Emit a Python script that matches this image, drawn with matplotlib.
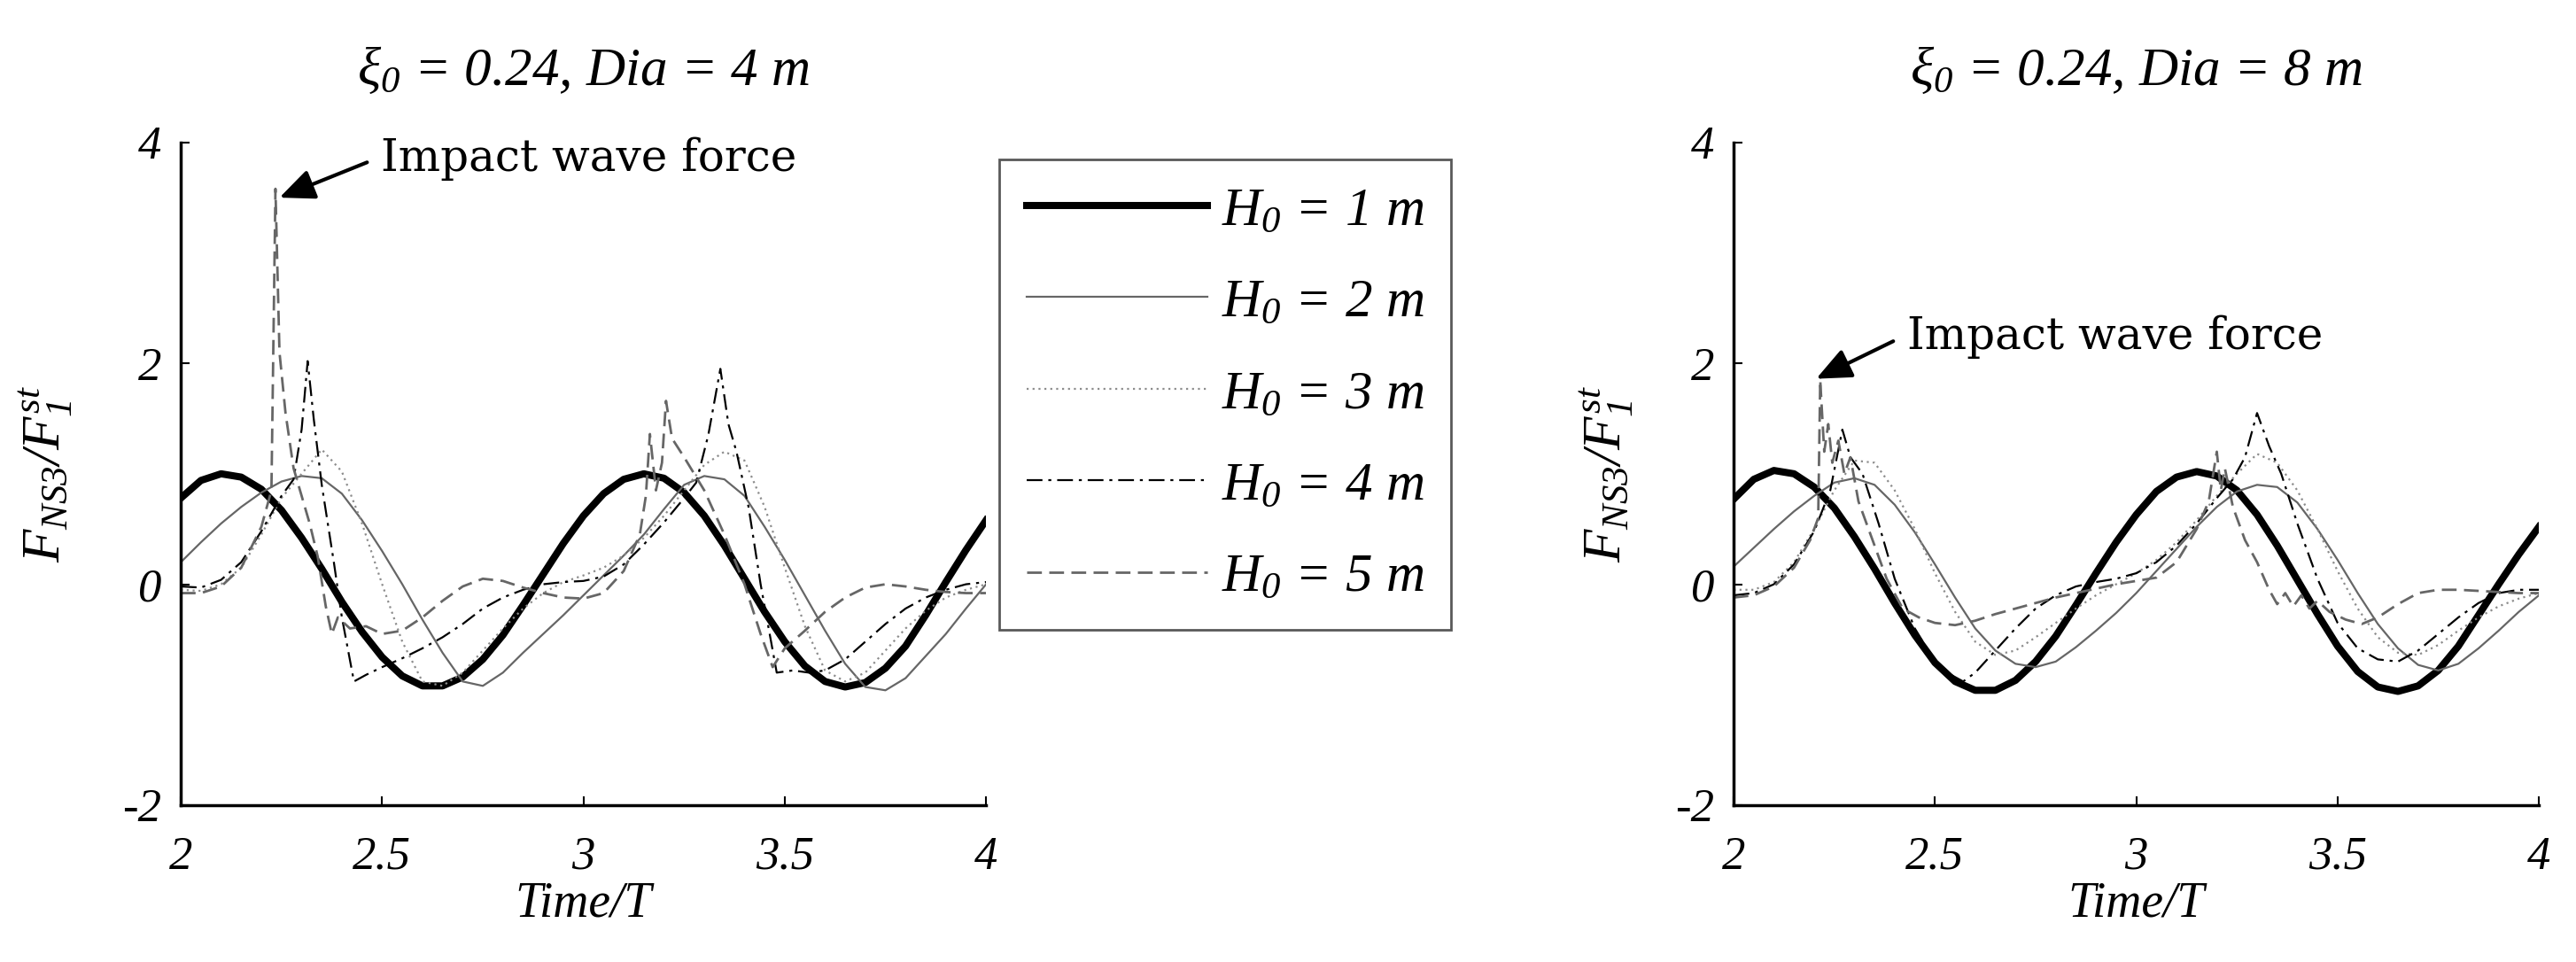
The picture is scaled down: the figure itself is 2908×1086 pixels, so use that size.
import matplotlib
matplotlib.use('Agg')
import matplotlib.pyplot as plt

plt.rcParams['font.family'] = 'Liberation Serif'
plt.rcParams['font.style'] = 'italic'
plt.rcParams['mathtext.fontset'] = 'custom'
plt.rcParams['mathtext.it'] = 'Liberation Serif:italic'
plt.rcParams['mathtext.rm'] = 'Liberation Serif:italic'
plt.rcParams['mathtext.default'] = 'it'

# ---------------- data ----------------
t_grid = [2.00, 2.05, 2.10, 2.15, 2.20, 2.25, 2.30, 2.35, 2.40, 2.45,
          2.50, 2.55, 2.60, 2.65, 2.70, 2.75, 2.80, 2.85, 2.90, 2.95,
          3.00, 3.05, 3.10, 3.15, 3.20, 3.25, 3.30, 3.35, 3.40, 3.45,
          3.50, 3.55, 3.60, 3.65, 3.70, 3.75, 3.80, 3.85, 3.90, 3.95, 4.00]

# Dia = 4 m
L_H1 = [0.78, 0.94, 1.00, 0.97, 0.86, 0.67, 0.42, 0.14, -0.16, -0.43,
        -0.66, -0.83, -0.92, -0.92, -0.84, -0.68, -0.46, -0.19, 0.09, 0.37,
        0.62, 0.82, 0.95, 1.00, 0.96, 0.83, 0.62, 0.35, 0.05, -0.25,
        -0.52, -0.74, -0.88, -0.93, -0.89, -0.76, -0.56, -0.28, 0.02, 0.31, 0.58]
L_H2 = [0.20, 0.38, 0.55, 0.70, 0.83, 0.93, 0.98, 0.96, 0.82, 0.58,
        0.30, 0.00, -0.32, -0.62, -0.88, -0.92, -0.80, -0.62, -0.45, -0.28,
        -0.10, 0.08, 0.26, 0.45, 0.68, 0.90, 0.98, 0.95, 0.80, 0.52,
        0.22, -0.10, -0.42, -0.72, -0.93, -0.96, -0.85, -0.65, -0.45, -0.22, 0.00]
L_H3 = [-0.05, -0.06, 0.00, 0.15, 0.45, 0.78, 1.00, 1.22, 1.02, 0.55,
        0.00, -0.52, -0.88, -0.92, -0.80, -0.60, -0.40, -0.22, -0.08, 0.02,
        0.08, 0.15, 0.26, 0.42, 0.62, 0.85, 1.08, 1.20, 1.12, 0.70,
        0.15, -0.38, -0.78, -0.88, -0.80, -0.60, -0.40, -0.24, -0.12, -0.05, 0.00]
L_H4_t = [2.00, 2.05, 2.10, 2.15, 2.20, 2.25, 2.28, 2.30, 2.315, 2.33,
          2.35, 2.38, 2.40, 2.43, 2.46, 2.50, 2.55, 2.60, 2.65, 2.70,
          2.75, 2.80, 2.85, 2.90, 2.95, 3.00, 3.05, 3.10, 3.15, 3.20,
          3.25, 3.28, 3.31, 3.34, 3.36, 3.38, 3.41, 3.44, 3.48, 3.52,
          3.56, 3.60, 3.65, 3.70, 3.75, 3.80, 3.85, 3.90, 3.95, 4.00]
L_H4 = [-0.02, -0.03, 0.04, 0.20, 0.48, 0.80, 0.95, 1.40, 2.02, 1.50,
        0.90, 0.20, -0.30, -0.88, -0.82, -0.75, -0.67, -0.58, -0.48, -0.36,
        -0.22, -0.12, -0.05, 0.00, 0.02, 0.03, 0.07, 0.18, 0.36, 0.56,
        0.78, 0.92, 1.35, 1.95, 1.45, 1.20, 0.70, 0.00, -0.80, -0.78,
        -0.80, -0.78, -0.68, -0.52, -0.36, -0.22, -0.12, -0.05, 0.00, 0.02]
L_H5_t = [2.00, 2.05, 2.10, 2.15, 2.20, 2.225, 2.235, 2.245, 2.26, 2.28,
          2.30, 2.32, 2.34, 2.36, 2.375, 2.39, 2.42, 2.46, 2.50, 2.55,
          2.60, 2.65, 2.70, 2.75, 2.80, 2.85, 2.90, 2.95, 3.00, 3.05,
          3.10, 3.14, 3.155, 3.165, 3.18, 3.195, 3.205, 3.22, 3.25, 3.30,
          3.35, 3.40, 3.44, 3.47, 3.50, 3.55, 3.60, 3.65, 3.70, 3.75,
          3.80, 3.85, 3.90, 3.95, 4.00]
L_H5 = [-0.08, -0.08, -0.02, 0.15, 0.52, 0.85, 3.58, 2.10, 1.55, 1.05,
        0.80, 0.55, 0.25, -0.20, -0.45, -0.30, -0.40, -0.38, -0.45, -0.42,
        -0.30, -0.15, -0.02, 0.05, 0.03, -0.03, -0.08, -0.12, -0.13, -0.08,
        0.12, 0.45, 0.80, 1.36, 0.85, 1.10, 1.66, 1.32, 1.15, 0.85,
        0.45, 0.00, -0.45, -0.75, -0.58, -0.42, -0.25, -0.12, -0.03, 0.00,
        -0.02, -0.05, -0.07, -0.08, -0.08]

# Dia = 8 m
R_H1 = [0.77, 0.95, 1.03, 1.00, 0.88, 0.69, 0.43, 0.14, -0.17, -0.46,
        -0.71, -0.88, -0.96, -0.96, -0.87, -0.70, -0.47, -0.19, 0.10, 0.38,
        0.63, 0.84, 0.97, 1.02, 0.98, 0.85, 0.63, 0.35, 0.04, -0.27,
        -0.56, -0.79, -0.93, -0.97, -0.92, -0.78, -0.56, -0.28, 0.00, 0.27, 0.52]
R_H2 = [0.16, 0.33, 0.50, 0.66, 0.80, 0.92, 0.96, 0.90, 0.72, 0.47,
        0.18, -0.12, -0.40, -0.60, -0.72, -0.75, -0.70, -0.57, -0.42, -0.26,
        -0.08, 0.12, 0.32, 0.52, 0.70, 0.84, 0.90, 0.88, 0.74, 0.50,
        0.22, -0.08, -0.36, -0.58, -0.73, -0.78, -0.72, -0.58, -0.42, -0.25, -0.10]
R_H3 = [-0.05, -0.05, 0.02, 0.20, 0.50, 0.85, 1.12, 1.10, 0.85, 0.50,
        0.10, -0.25, -0.52, -0.64, -0.60, -0.48, -0.35, -0.22, -0.10, 0.00,
        0.10, 0.22, 0.38, 0.58, 0.80, 1.00, 1.18, 1.10, 0.85, 0.50,
        0.12, -0.22, -0.48, -0.62, -0.64, -0.55, -0.42, -0.30, -0.20, -0.13, -0.08]
R_H4_t = [2.00, 2.05, 2.10, 2.15, 2.20, 2.24, 2.27, 2.29, 2.32, 2.36,
          2.40, 2.45, 2.50, 2.54, 2.57, 2.60, 2.65, 2.70, 2.75, 2.80,
          2.85, 2.90, 2.95, 3.00, 3.05, 3.10, 3.15, 3.20, 3.24, 3.27,
          3.30, 3.33, 3.36, 3.40, 3.45, 3.50, 3.55, 3.60, 3.65, 3.70,
          3.75, 3.80, 3.85, 3.90, 3.95, 4.00]
R_H4 = [-0.10, -0.08, 0.00, 0.18, 0.48, 0.85, 1.40, 1.15, 1.00, 0.55,
        0.05, -0.40, -0.70, -0.82, -0.88, -0.80, -0.60, -0.40, -0.22, -0.10,
        -0.02, 0.02, 0.05, 0.10, 0.20, 0.35, 0.55, 0.78, 0.95, 1.15,
        1.55, 1.25, 1.00, 0.55, 0.05, -0.35, -0.58, -0.68, -0.70, -0.60,
        -0.45, -0.30, -0.17, -0.08, -0.05, -0.05]
R_H5_t = [2.00, 2.05, 2.10, 2.15, 2.19, 2.21, 2.215, 2.225, 2.235, 2.245,
          2.26, 2.275, 2.29, 2.31, 2.34, 2.38, 2.42, 2.46, 2.50, 2.55,
          2.60, 2.65, 2.70, 2.75, 2.80, 2.85, 2.90, 2.95, 3.00, 3.05,
          3.10, 3.15, 3.18, 3.20, 3.21, 3.22, 3.24, 3.27, 3.30, 3.33,
          3.35, 3.37, 3.39, 3.41, 3.43, 3.45, 3.48, 3.52, 3.56, 3.60,
          3.65, 3.70, 3.75, 3.80, 3.85, 3.90, 3.95, 4.00]
R_H5 = [-0.12, -0.10, -0.02, 0.15, 0.40, 0.60, 1.85, 1.20, 1.45, 1.10,
        1.30, 1.00, 1.15, 0.75, 0.45, 0.05, -0.22, -0.30, -0.35, -0.37,
        -0.33, -0.27, -0.22, -0.17, -0.12, -0.08, -0.04, 0.00, 0.03, 0.06,
        0.20, 0.50, 0.75, 1.20, 0.85, 1.05, 0.70, 0.40, 0.20, -0.05,
        -0.18, -0.08, -0.20, -0.10, -0.22, -0.15, -0.25, -0.32, -0.36, -0.30,
        -0.18, -0.08, -0.05, -0.05, -0.06, -0.07, -0.08, -0.08]

labels = [r'$H_0$ = 1 m', r'$H_0$ = 2 m', r'$H_0$ = 3 m', r'$H_0$ = 4 m', r'$H_0$ = 5 m']
xticks = [2, 2.5, 3, 3.5, 4]
xticklabels = ['2', '2.5', '3', '3.5', '4']
yticks = [-2, 0, 2, 4]
yticklabels = ['-2', '0', '2', '4']

# line styles for H0 = 1..5 m
styles = [dict(color='k', lw=5.8, ls='-'),
          dict(color='0.4', lw=1.6, ls='-'),
          dict(color='0.55', lw=1.6, ls=(0, (1, 2))),
          dict(color='k', lw=1.6, ls=(0, (8, 3, 1.5, 3))),
          dict(color='0.4', lw=2.0, ls=(0, (6, 3)))]

# ---------------- figure ----------------
fig = plt.figure(figsize=(29.08, 10.86), dpi=100)


def setup(ax):
    ax.set_xlim(2, 4)
    ax.set_ylim(-2, 4)
    ax.spines['top'].set_visible(False)
    ax.spines['right'].set_visible(False)
    for s in ['left', 'bottom']:
        ax.spines[s].set_linewidth(2.5)
    ax.set_xticks(xticks)
    ax.set_xticklabels(xticklabels)
    ax.set_yticks(yticks)
    ax.set_yticklabels(yticklabels)
    ax.tick_params(direction='in', length=7, width=1.5, labelsize=38)
    ax.tick_params(axis='x', pad=25)
    ax.tick_params(axis='y', pad=16)


def draw(ax, series):
    hs = []
    for (t, v), st, lab in zip(series, styles, labels):
        h, = ax.plot(t, v, label=lab, **st)
        hs.append(h)
    return hs


axL = fig.add_axes([0.0702, 0.163, 0.3126, 0.689])
axR = fig.add_axes([0.673, 0.163, 0.3126, 0.689])
for ax in (axL, axR):
    setup(ax)

handles = draw(axL, [(t_grid, L_H1), (t_grid, L_H2), (t_grid, L_H3),
                     (L_H4_t, L_H4), (L_H5_t, L_H5)])
draw(axR, [(t_grid, R_H1), (t_grid, R_H2), (t_grid, R_H3),
           (R_H4_t, R_H4), (R_H5_t, R_H5)])

# titles and axis labels
fig.text(0.2265, 0.9116, r'$\xi_0$ = 0.24, Dia = 4 m', ha='center', va='baseline', fontsize=44)
fig.text(0.8293, 0.9116, r'$\xi_0$ = 0.24, Dia = 8 m', ha='center', va='baseline', fontsize=44)
for xc in (0.2265, 0.8293):
    fig.text(xc, 0.047, 'Time/T', ha='center', va='baseline', fontsize=40)
for xl in (0.0179, 0.6235):
    fig.text(xl, 0.507, r'$F_{NS3}/F_{1}^{st}$', ha='center', va='center',
             rotation=90, fontsize=44)

# annotations
arrow = dict(arrowstyle='-|>,head_length=0.8,head_width=0.35', color='k', lw=3,
             mutation_scale=30, shrinkA=10, shrinkB=0, relpos=(0, 0.55))
axL.annotate('Impact wave force', xy=(2.245, 3.5), xytext=(2.497, 3.85),
             ha='left', va='center', fontsize=36, family='DejaVu Serif',
             style='normal', arrowprops=arrow, annotation_clip=False)
axR.annotate('Impact wave force', xy=(2.205, 1.86), xytext=(2.43, 2.24),
             ha='left', va='center', fontsize=36, family='DejaVu Serif',
             style='normal', arrowprops=arrow, annotation_clip=False)

# legend
leg = fig.legend(handles=handles, loc='upper left', bbox_to_anchor=(0.3879, 0.8343),
                 borderaxespad=0, frameon=True, fancybox=False, framealpha=1,
                 edgecolor='0.35', handlelength=3.35, handletextpad=0.25,
                 labelspacing=0.78, borderpad=0.5,
                 prop={'family': 'Liberation Serif', 'style': 'italic', 'size': 44})
leg.get_frame().set_linewidth(2)

fig.savefig('out.png', dpi=100)
